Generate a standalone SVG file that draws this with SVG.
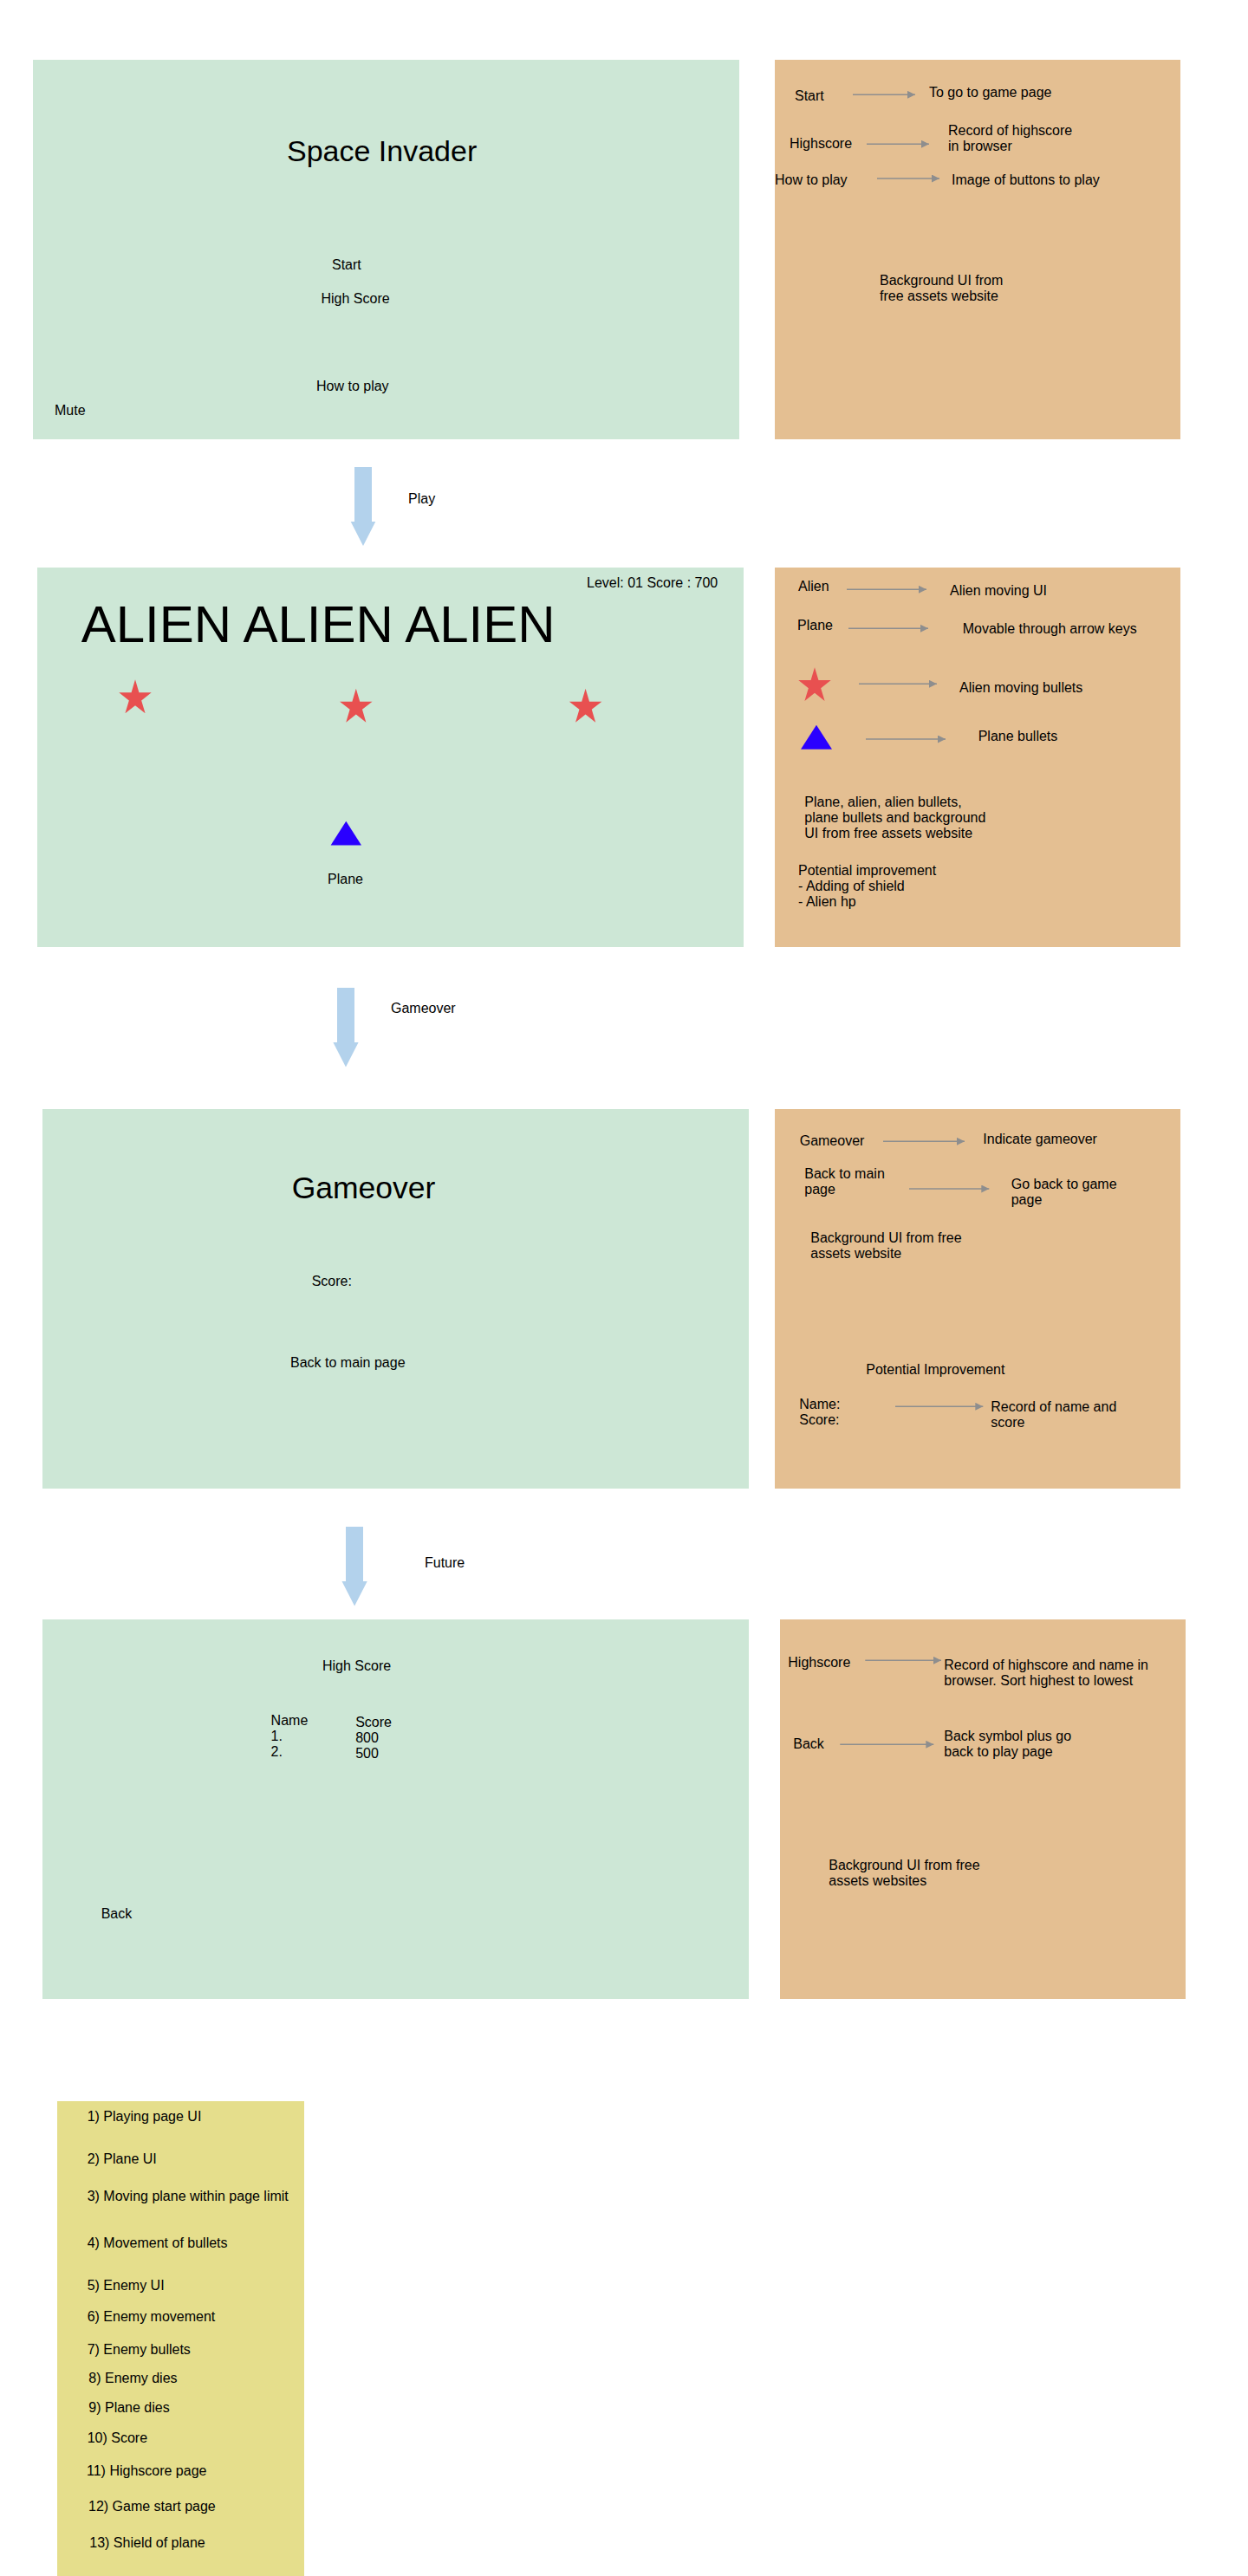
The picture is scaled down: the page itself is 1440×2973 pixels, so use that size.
<svg xmlns="http://www.w3.org/2000/svg" xmlns:xlink="http://www.w3.org/1999/xlink" width="1440" height="2973" viewBox="0 0 1440 2973">
<style>
  text { font-family: "Liberation Sans", Arial, sans-serif; font-size: 16px; fill: #000; }
  .green { fill: #cde7d6; }
  .peach { fill: #e4bf92; }
  .yellow { fill: #e5de8c; }
  .star { fill: #e85050; }
  .tri { fill: #2a00ff; }
  .flow { fill: #b3d2ec; }
  .conn { stroke: #8e8e8e; stroke-width: 1.4; fill: none; marker-end: url(#gh); }
</style>
<defs>
  <marker id="gh" markerUnits="userSpaceOnUse" markerWidth="10" markerHeight="10" refX="9" refY="4.5" orient="auto">
    <path d="M0,0 L9,4.5 L0,9 Z" fill="#8e8e8e"/>
  </marker>
  <path id="star" d="M0,-1 L0.2245,-0.309 L0.9511,-0.309 L0.3633,0.118 L0.5878,0.809 L0,0.382 L-0.5878,0.809 L-0.3633,0.118 L-0.9511,-0.309 L-0.2245,-0.309 Z"/>
</defs>
<rect width="1440" height="2973" fill="#ffffff"/>

<g id="start-page">
  <rect class="green" x="38" y="69" width="815" height="438"/>
  <text x="331" y="186" style="font-size:34px">Space Invader</text>
  <text x="383" y="311">Start</text>
  <text x="370.5" y="350">High Score</text>
  <text x="365" y="450.5">How to play</text>
  <text x="63" y="479">Mute</text>
</g>

<g id="start-notes">
  <rect class="peach" x="894" y="69" width="468" height="438"/>
  <text x="917" y="116">Start</text>
  <text x="1072" y="112">To go to game page</text>
  <text x="911" y="171">Highscore</text>
  <text x="1094" y="155.7">Record of highscore<tspan x="1094" dy="18">in browser</tspan></text>
  <text x="894" y="213">How to play</text>
  <text x="1098" y="212.7">Image of buttons to play</text>
  <text x="1015" y="328.7">Background UI from<tspan x="1015" dy="18">free assets website</tspan></text>
</g>

<g id="play-page">
  <rect class="green" x="43" y="655" width="815" height="438"/>
  <text x="677" y="678">Level: 01 Score : 700</text>
  <text x="93.7" y="740.8" style="font-size:60px">ALIEN ALIEN ALIEN</text>
  <use href="#star" class="star" transform="translate(156,805.9) scale(19.7,21.6)"/>
  <use href="#star" class="star" transform="translate(410.8,816.3) scale(19.7,21.6)"/>
  <use href="#star" class="star" transform="translate(675.6,816.3) scale(19.7,21.6)"/>
  <polygon class="tri" points="399.3,947.8 417,975.5 381.6,975.5"/>
  <text x="378" y="1019.6">Plane</text>
</g>

<g id="play-notes">
  <rect class="peach" x="894" y="655" width="468" height="438"/>
  <text x="921" y="682.3">Alien</text>
  <text x="1096" y="687.3">Alien moving UI</text>
  <text x="920" y="727">Plane</text>
  <text x="1110.7" y="731">Movable through arrow keys</text>
  <use href="#star" class="star" transform="translate(940,791.6) scale(19.7,21.4)"/>
  <text x="1107" y="799">Alien moving bullets</text>
  <polygon class="tri" points="942,836.7 960,864.7 924,864.7"/>
  <text x="1128.7" y="855">Plane bullets</text>
  <text x="928.3" y="931">Plane, alien, alien bullets,<tspan x="928.3" dy="18">plane bullets and background</tspan><tspan x="928.3" dy="18">UI from free assets website</tspan></text>
  <text x="921" y="1009.7">Potential improvement<tspan x="921" dy="18">- Adding of shield</tspan><tspan x="921" dy="18">- Alien hp</tspan></text>
</g>

<g id="gameover-page">
  <rect class="green" x="49" y="1280" width="815" height="438"/>
  <text x="336.7" y="1382.9" style="font-size:35.5px">Gameover</text>
  <text x="359.7" y="1484">Score:</text>
  <text x="335" y="1578">Back to main page</text>
</g>

<g id="gameover-notes">
  <rect class="peach" x="894" y="1280" width="468" height="438"/>
  <text x="922.7" y="1322">Gameover</text>
  <text x="1134.3" y="1320">Indicate gameover</text>
  <text x="928.3" y="1360">Back to main<tspan x="928.3" dy="18">page</tspan></text>
  <text x="1166.7" y="1371.7">Go back to game<tspan x="1166.7" dy="18">page</tspan></text>
  <text x="935.3" y="1434">Background UI from free<tspan x="935.3" dy="18">assets website</tspan></text>
  <text x="999.3" y="1586">Potential Improvement</text>
  <text x="922.3" y="1626">Name:<tspan x="922.3" dy="18">Score:</tspan></text>
  <text x="1143.3" y="1628.7">Record of name and<tspan x="1143.3" dy="18">score</tspan></text>
</g>

<g id="highscore-page">
  <rect class="green" x="49" y="1869" width="815" height="438"/>
  <text x="372" y="1928">High Score</text>
  <text x="312.6" y="1991.4">Name<tspan x="312.6" dy="17.8">1.</tspan><tspan x="312.6" dy="17.8">2.</tspan></text>
  <text x="410.2" y="1993">Score<tspan x="410.2" dy="17.8">800</tspan><tspan x="410.2" dy="17.8">500</tspan></text>
  <text x="116.7" y="2213.5">Back</text>
</g>

<g id="highscore-notes">
  <rect class="peach" x="900" y="1869" width="468" height="438"/>
  <text x="909.3" y="1924">Highscore</text>
  <text x="1089.3" y="1927.3">Record of highscore and name in<tspan x="1089.3" dy="18">browser. Sort highest to lowest</tspan></text>
  <text x="915.3" y="2018.3">Back</text>
  <text x="1089.3" y="2009">Back symbol plus go<tspan x="1089.3" dy="18">back to play page</tspan></text>
  <text x="956.3" y="2158">Background UI from free<tspan x="956.3" dy="18">assets websites</tspan></text>
</g>

<g id="task-list">
  <rect class="yellow" x="66" y="2425" width="285" height="548"/>
  <text x="100.7" y="2448">1) Playing page UI</text>
  <text x="100.7" y="2497">2) Plane UI</text>
  <text x="100.7" y="2540">3) Moving plane within page limit</text>
  <text x="100.7" y="2594">4) Movement of bullets</text>
  <text x="100.7" y="2643">5) Enemy UI</text>
  <text x="100.7" y="2679">6) Enemy movement</text>
  <text x="100.7" y="2717">7) Enemy bullets</text>
  <text x="102.3" y="2750">8) Enemy dies</text>
  <text x="102.3" y="2784">9) Plane dies</text>
  <text x="100.7" y="2819">10) Score</text>
  <text x="100" y="2856.6">11) Highscore page</text>
  <text x="102" y="2898">12) Game start page</text>
  <text x="103.3" y="2940">13) Shield of plane</text>
</g>

<g id="connectors">
  <polygon class="flow" points="409,539 429,539 429,602 433.3,602 419,630 404.7,602 409,602"/>
  <text x="471" y="581">Play</text>
  <polygon class="flow" points="389,1140 409,1140 409,1203 413.6,1203 399,1231.4 384.4,1203 389,1203"/>
  <text x="451" y="1168.6">Gameover</text>
  <polygon class="flow" points="399,1762 419,1762 419,1825 423.7,1825 409.1,1853.5 394.5,1825 399,1825"/>
  <text x="490" y="1808.6">Future</text>

  <line class="conn" x1="984" y1="109.3" x2="1056" y2="109.3"/>
  <line class="conn" x1="1000" y1="166.3" x2="1072" y2="166.3"/>
  <line class="conn" x1="1012" y1="206" x2="1084" y2="206"/>

  <line class="conn" x1="977" y1="680.3" x2="1069" y2="680.3"/>
  <line class="conn" x1="979" y1="725.3" x2="1071" y2="725.3"/>
  <line class="conn" x1="991" y1="789.3" x2="1081" y2="789.3"/>
  <line class="conn" x1="999" y1="853" x2="1091" y2="853"/>

  <line class="conn" x1="1019" y1="1317.3" x2="1113" y2="1317.3"/>
  <line class="conn" x1="1049" y1="1372" x2="1141.3" y2="1372"/>
  <line class="conn" x1="1033" y1="1623.3" x2="1134.3" y2="1623.3"/>

  <line class="conn" x1="998.3" y1="1916.3" x2="1086" y2="1916.3"/>
  <line class="conn" x1="969.3" y1="2013.3" x2="1077.3" y2="2013.3"/>
</g>
</svg>
